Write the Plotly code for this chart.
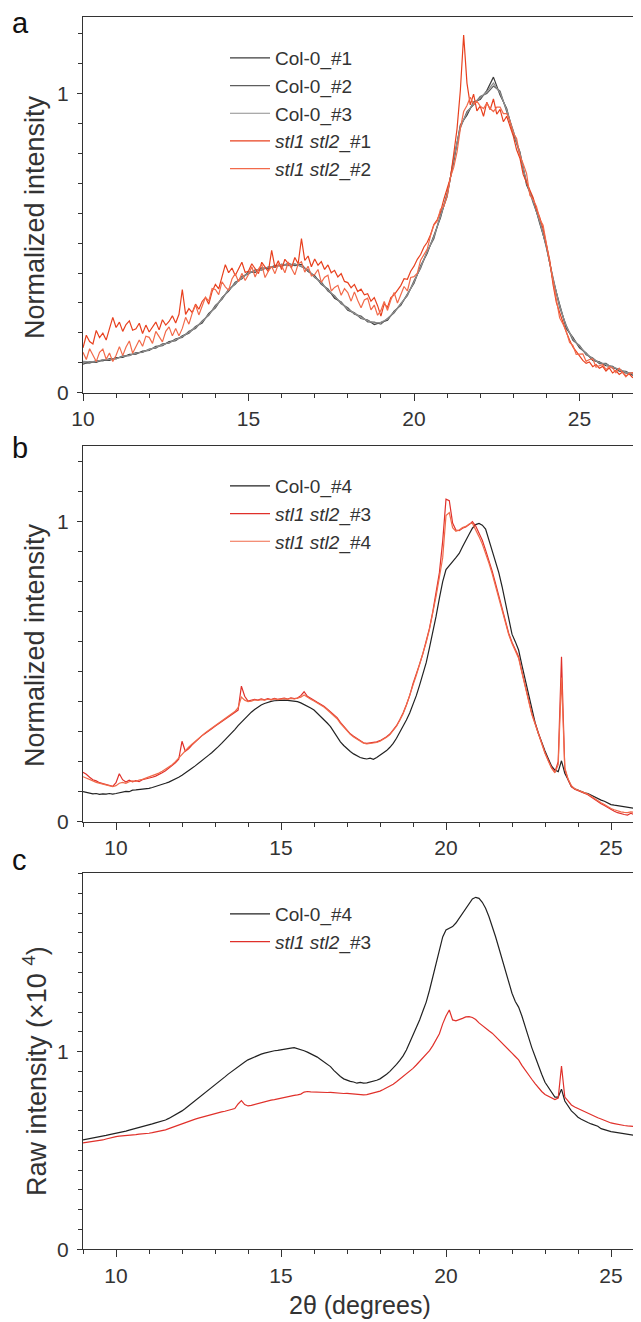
import numpy as np
import plotly.graph_objects as go

# ---- data ----
# panel a: 2theta grids
x_a_col = np.round(np.arange(10.0, 27.2 + 1e-9, 0.2), 1)
x_a_stl = np.round(np.arange(10.0, 27.1 + 1e-9, 0.1), 1)

col0_1 = [0.095, 0.104, 0.101, 0.110, 0.108, 0.117, 0.118, 0.128, 0.129, 0.139,
          0.141, 0.155, 0.157, 0.171, 0.174, 0.190, 0.199, 0.221, 0.233, 0.265,
          0.284, 0.318, 0.340, 0.369, 0.381, 0.404, 0.402, 0.417, 0.414, 0.426,
          0.423, 0.432, 0.425, 0.429, 0.405, 0.391, 0.362, 0.347, 0.316, 0.303,
          0.276, 0.267, 0.248, 0.243, 0.228, 0.234, 0.242, 0.273, 0.292, 0.330,
          0.366, 0.424, 0.466, 0.525, 0.585, 0.665, 0.772, 0.895, 0.928, 0.972,
          0.980, 1.010, 1.055, 0.995, 0.950, 0.865, 0.805, 0.695, 0.645, 0.565,
          0.492, 0.375, 0.295, 0.215, 0.185, 0.150, 0.133, 0.108, 0.103, 0.090,
          0.088, 0.072, 0.071, 0.059, 0.058, 0.050, 0.048]
col0_2 = [0.100, 0.099, 0.107, 0.106, 0.114, 0.113, 0.123, 0.124, 0.134, 0.135,
          0.146, 0.149, 0.163, 0.166, 0.180, 0.185, 0.205, 0.215, 0.240, 0.259,
          0.292, 0.312, 0.346, 0.362, 0.389, 0.397, 0.411, 0.410, 0.421, 0.419,
          0.430, 0.425, 0.431, 0.420, 0.411, 0.385, 0.370, 0.340, 0.324, 0.297,
          0.284, 0.262, 0.256, 0.237, 0.236, 0.229, 0.248, 0.267, 0.298, 0.324,
          0.374, 0.416, 0.474, 0.515, 0.595, 0.655, 0.784, 0.885, 0.940, 0.962,
          0.990, 1.000, 1.025, 1.008, 0.940, 0.875, 0.795, 0.705, 0.635, 0.575,
          0.484, 0.385, 0.285, 0.225, 0.175, 0.158, 0.127, 0.116, 0.097, 0.098,
          0.082, 0.080, 0.065, 0.066, 0.054, 0.056, 0.051]
col0_3 = [0.105, 0.103, 0.104, 0.111, 0.111, 0.114, 0.121, 0.125, 0.132, 0.136,
          0.144, 0.151, 0.160, 0.168, 0.176, 0.188, 0.201, 0.219, 0.237, 0.262,
          0.287, 0.316, 0.343, 0.366, 0.384, 0.401, 0.406, 0.414, 0.419, 0.421,
          0.428, 0.427, 0.429, 0.423, 0.409, 0.387, 0.367, 0.342, 0.321, 0.301,
          0.279, 0.266, 0.251, 0.241, 0.233, 0.235, 0.246, 0.270, 0.296, 0.328,
          0.369, 0.421, 0.469, 0.521, 0.590, 0.660, 0.780, 0.890, 0.935, 0.968,
          0.986, 1.006, 1.035, 1.002, 0.946, 0.871, 0.801, 0.701, 0.641, 0.571,
          0.489, 0.381, 0.291, 0.221, 0.181, 0.155, 0.131, 0.113, 0.101, 0.095,
          0.086, 0.077, 0.069, 0.063, 0.057, 0.053, 0.050]

stl_1 = [0.150, 0.192, 0.171, 0.163, 0.208, 0.184, 0.199, 0.176, 0.214, 0.252,
         0.218, 0.236, 0.205, 0.228, 0.240, 0.209, 0.214, 0.232, 0.198, 0.226,
         0.203, 0.221, 0.236, 0.210, 0.244, 0.226, 0.238, 0.257, 0.233, 0.262,
         0.345, 0.262, 0.281, 0.268, 0.296, 0.279, 0.305, 0.318, 0.296, 0.338,
         0.362, 0.347, 0.389, 0.428, 0.401, 0.417, 0.392, 0.413, 0.436, 0.402,
         0.407, 0.431, 0.414, 0.398, 0.436, 0.422, 0.405, 0.476, 0.418, 0.441,
         0.412, 0.446, 0.432, 0.418, 0.452, 0.431, 0.515, 0.442, 0.457, 0.421,
         0.447, 0.426, 0.438, 0.412, 0.427, 0.401, 0.409, 0.387, 0.398, 0.372,
         0.368, 0.351, 0.362, 0.338, 0.346, 0.327, 0.331, 0.306, 0.318, 0.291,
         0.256, 0.297, 0.286, 0.318, 0.327, 0.341, 0.358, 0.381, 0.379, 0.406,
         0.423, 0.446, 0.462, 0.487, 0.503, 0.528, 0.562, 0.578, 0.604, 0.646,
         0.682, 0.718, 0.798, 0.882, 1.010, 1.196, 1.035, 0.962, 0.998, 0.942,
         0.958, 0.924, 0.971, 0.946, 0.982, 0.931, 0.947, 0.906, 0.924, 0.893,
         0.858, 0.812, 0.784, 0.729, 0.703, 0.676, 0.652, 0.613, 0.586, 0.548,
         0.498, 0.443, 0.362, 0.302, 0.268, 0.232, 0.203, 0.176, 0.153, 0.138,
         0.121, 0.108, 0.098, 0.103, 0.087, 0.094, 0.082, 0.088, 0.072, 0.083,
         0.066, 0.074, 0.061, 0.069, 0.056, 0.063, 0.051, 0.058, 0.044, 0.022,
         0.012, 0.010]
stl_2 = [0.135, 0.111, 0.147, 0.123, 0.104, 0.135, 0.146, 0.112, 0.133, 0.104,
         0.125, 0.154, 0.124, 0.153, 0.173, 0.132, 0.156, 0.176, 0.155, 0.189,
         0.185, 0.165, 0.205, 0.185, 0.170, 0.205, 0.220, 0.190, 0.215, 0.190,
         0.215, 0.252, 0.229, 0.266, 0.293, 0.260, 0.292, 0.319, 0.306, 0.348,
         0.345, 0.328, 0.371, 0.354, 0.342, 0.380, 0.398, 0.371, 0.399, 0.375,
         0.395, 0.421, 0.387, 0.413, 0.429, 0.385, 0.406, 0.422, 0.398, 0.430,
         0.425, 0.401, 0.437, 0.413, 0.394, 0.430, 0.438, 0.403, 0.423, 0.390,
         0.395, 0.412, 0.369, 0.386, 0.393, 0.340, 0.352, 0.359, 0.326, 0.348,
         0.335, 0.306, 0.337, 0.308, 0.284, 0.310, 0.316, 0.277, 0.293, 0.259,
         0.275, 0.305, 0.275, 0.310, 0.335, 0.300, 0.330, 0.355, 0.340, 0.385,
         0.388, 0.400, 0.443, 0.460, 0.480, 0.525, 0.560, 0.573, 0.613, 0.623,
         0.657, 0.720, 0.753, 0.805, 0.883, 0.940, 0.960, 0.988, 0.965, 0.975,
         0.958, 0.950, 0.968, 0.950, 0.940, 0.955, 0.955, 0.933, 0.933, 0.908,
         0.868, 0.850, 0.793, 0.765, 0.733, 0.660, 0.645, 0.623, 0.580, 0.560,
         0.498, 0.425, 0.373, 0.300, 0.250, 0.230, 0.205, 0.168, 0.158, 0.128,
         0.128, 0.130, 0.105, 0.111, 0.113, 0.085, 0.090, 0.094, 0.077, 0.088,
         0.083, 0.067, 0.082, 0.066, 0.053, 0.065, 0.067, 0.047, 0.055, 0.038,
         0.042, 0.040]

# panels b and c share one 2theta grid
x_bc = np.round(np.arange(9.0, 26.2 + 1e-9, 0.1), 1)

col0_4_b = [0.100, 0.098, 0.094, 0.093, 0.094, 0.091, 0.093, 0.092, 0.094, 0.092,
            0.094, 0.097, 0.099, 0.101, 0.100, 0.105, 0.106, 0.107, 0.110, 0.109,
            0.111, 0.114, 0.117, 0.120, 0.124, 0.128, 0.132, 0.137, 0.142, 0.148,
            0.155, 0.162, 0.170, 0.178, 0.186, 0.194, 0.203, 0.212, 0.221, 0.230,
            0.239, 0.250, 0.261, 0.272, 0.283, 0.294, 0.307, 0.320, 0.332, 0.344,
            0.355, 0.365, 0.374, 0.382, 0.389, 0.394, 0.398, 0.401, 0.403, 0.404,
            0.405, 0.405, 0.404, 0.403, 0.402, 0.400, 0.396, 0.391, 0.385, 0.379,
            0.372, 0.362, 0.351, 0.340, 0.329, 0.317, 0.300, 0.282, 0.266, 0.254,
            0.243, 0.234, 0.226, 0.219, 0.214, 0.211, 0.209, 0.212, 0.208, 0.214,
            0.222, 0.228, 0.237, 0.248, 0.261, 0.278, 0.297, 0.318, 0.339, 0.362,
            0.390, 0.420, 0.455, 0.490, 0.530, 0.580, 0.630, 0.685, 0.745, 0.800,
            0.840, 0.855, 0.867, 0.880, 0.894, 0.916, 0.939, 0.958, 0.978, 0.990,
            0.994, 0.988, 0.975, 0.939, 0.905, 0.872, 0.830, 0.783, 0.733, 0.683,
            0.625, 0.600, 0.572, 0.522, 0.472, 0.420, 0.372, 0.330, 0.294, 0.262,
            0.236, 0.210, 0.185, 0.172, 0.167, 0.203, 0.161, 0.140, 0.117, 0.110,
            0.105, 0.100, 0.096, 0.094, 0.088, 0.082, 0.076, 0.072, 0.068, 0.062,
            0.057, 0.055, 0.053, 0.051, 0.049, 0.048, 0.046, 0.045, 0.043, 0.042,
            0.040, 0.040, 0.039]
stl_3_b = [0.165, 0.158, 0.148, 0.140, 0.136, 0.130, 0.127, 0.124, 0.120, 0.118,
           0.130, 0.160, 0.140, 0.132, 0.138, 0.133, 0.137, 0.134, 0.140, 0.142,
           0.144, 0.148, 0.152, 0.157, 0.163, 0.170, 0.178, 0.186, 0.196, 0.208,
           0.268, 0.235, 0.243, 0.255, 0.266, 0.276, 0.286, 0.294, 0.301, 0.310,
           0.318, 0.326, 0.334, 0.342, 0.350, 0.357, 0.364, 0.372, 0.452, 0.418,
           0.402, 0.404, 0.408, 0.405, 0.409, 0.406, 0.410, 0.407, 0.411, 0.408,
           0.410, 0.412, 0.409, 0.413, 0.410, 0.412, 0.420, 0.433, 0.418, 0.410,
           0.405, 0.398, 0.392, 0.385, 0.376, 0.367, 0.358, 0.347, 0.331, 0.318,
           0.305, 0.293, 0.285, 0.278, 0.270, 0.263, 0.261, 0.262, 0.264, 0.266,
           0.270, 0.276, 0.283, 0.292, 0.305, 0.320, 0.340, 0.362, 0.390, 0.420,
           0.460, 0.490, 0.525, 0.560, 0.600, 0.645, 0.700, 0.760, 0.830, 0.935,
           1.075, 1.070, 0.995, 0.972, 0.970, 0.978, 0.982, 0.990, 1.000, 0.985,
           0.960, 0.938, 0.905, 0.872, 0.835, 0.794, 0.750, 0.706, 0.668, 0.628,
           0.598, 0.572, 0.550, 0.500, 0.450, 0.405, 0.361, 0.328, 0.294, 0.260,
           0.230, 0.205, 0.180, 0.165, 0.200, 0.550, 0.175, 0.140, 0.117, 0.108,
           0.103, 0.098, 0.094, 0.090, 0.082, 0.074, 0.067, 0.060, 0.054, 0.047,
           0.040, 0.035, 0.030, 0.026, 0.024, 0.022, 0.028, 0.024, 0.027, 0.030,
           0.028, 0.026, 0.030]
stl_4_b = [0.150, 0.146, 0.140, 0.136, 0.131, 0.128, 0.124, 0.122, 0.119, 0.117,
           0.120, 0.128, 0.131, 0.128, 0.133, 0.136, 0.134, 0.139, 0.141, 0.145,
           0.148, 0.152, 0.157, 0.162, 0.168, 0.175, 0.182, 0.190, 0.200, 0.212,
           0.224, 0.238, 0.248, 0.258, 0.268, 0.278, 0.288, 0.296, 0.304, 0.312,
           0.320, 0.328, 0.336, 0.344, 0.352, 0.360, 0.367, 0.380, 0.415, 0.405,
           0.400, 0.402, 0.406, 0.404, 0.407, 0.405, 0.408, 0.406, 0.409, 0.407,
           0.408, 0.410, 0.408, 0.411, 0.409, 0.411, 0.415, 0.422, 0.414, 0.408,
           0.402, 0.396, 0.389, 0.382, 0.373, 0.364, 0.354, 0.343, 0.328, 0.315,
           0.302, 0.291, 0.282, 0.275, 0.268, 0.262, 0.259, 0.260, 0.262, 0.264,
           0.268, 0.274, 0.281, 0.290, 0.303, 0.318, 0.338, 0.360, 0.388, 0.418,
           0.455, 0.488, 0.522, 0.558, 0.598, 0.642, 0.695, 0.752, 0.815, 0.880,
           1.020, 1.030, 0.980, 0.968, 0.972, 0.980, 0.984, 0.992, 0.995, 0.975,
           0.950, 0.925, 0.895, 0.862, 0.826, 0.786, 0.744, 0.700, 0.662, 0.624,
           0.594, 0.570, 0.545, 0.497, 0.448, 0.402, 0.358, 0.325, 0.291, 0.257,
           0.228, 0.202, 0.178, 0.163, 0.190, 0.480, 0.180, 0.142, 0.120, 0.110,
           0.106, 0.101, 0.097, 0.092, 0.085, 0.077, 0.070, 0.063, 0.057, 0.050,
           0.044, 0.040, 0.036, 0.033, 0.031, 0.030, 0.033, 0.031, 0.034, 0.036,
           0.035, 0.034, 0.036]

# panel c: raw intensity, x 10^4
col0_4_c = [0.553, 0.556, 0.558, 0.561, 0.565, 0.570, 0.572, 0.576, 0.580, 0.583,
            0.587, 0.590, 0.594, 0.598, 0.603, 0.607, 0.611, 0.616, 0.620, 0.625,
            0.629, 0.634, 0.639, 0.643, 0.648, 0.654, 0.662, 0.671, 0.680, 0.690,
            0.700, 0.712, 0.725, 0.738, 0.751, 0.764, 0.778, 0.791, 0.805, 0.818,
            0.831, 0.845, 0.859, 0.872, 0.886, 0.899, 0.912, 0.924, 0.936, 0.947,
            0.958, 0.966, 0.974, 0.981, 0.987, 0.992, 0.997, 1.001, 1.004, 1.006,
            1.008, 1.011, 1.014, 1.017, 1.020, 1.016, 1.010, 1.004, 0.997, 0.990,
            0.983, 0.972, 0.960, 0.948, 0.936, 0.924, 0.905, 0.888, 0.874, 0.862,
            0.855, 0.849, 0.846, 0.840, 0.844, 0.840, 0.842, 0.846, 0.850, 0.855,
            0.862, 0.872, 0.885, 0.900, 0.916, 0.935, 0.955, 0.978, 1.008, 1.045,
            1.090, 1.125, 1.160, 1.205, 1.250, 1.310, 1.380, 1.450, 1.525, 1.580,
            1.615, 1.625, 1.632, 1.650, 1.675, 1.700, 1.725, 1.750, 1.772, 1.780,
            1.775, 1.755, 1.725, 1.683, 1.635, 1.582, 1.525, 1.464, 1.405, 1.346,
            1.295, 1.253, 1.225, 1.180, 1.125, 1.075, 1.020, 0.975, 0.925, 0.885,
            0.845, 0.818, 0.795, 0.770, 0.770, 0.810, 0.750, 0.725, 0.700, 0.685,
            0.668, 0.658, 0.648, 0.641, 0.634, 0.628, 0.622, 0.610, 0.604, 0.599,
            0.595, 0.593, 0.590, 0.587, 0.584, 0.582, 0.579, 0.576, 0.573, 0.571,
            0.569, 0.567, 0.566]
stl_3_c = [0.538, 0.540, 0.542, 0.544, 0.546, 0.549, 0.553, 0.558, 0.563, 0.567,
           0.570, 0.572, 0.573, 0.575, 0.576, 0.578, 0.580, 0.582, 0.583, 0.585,
           0.587, 0.590, 0.593, 0.596, 0.600, 0.604, 0.610, 0.616, 0.623, 0.630,
           0.637, 0.642, 0.648, 0.653, 0.658, 0.663, 0.668, 0.673, 0.678, 0.683,
           0.688, 0.691, 0.695, 0.698, 0.702, 0.705, 0.712, 0.735, 0.752, 0.732,
           0.725, 0.728, 0.733, 0.737, 0.742, 0.747, 0.750, 0.754, 0.757, 0.761,
           0.764, 0.767, 0.771, 0.774, 0.778, 0.781, 0.785, 0.795, 0.798, 0.796,
           0.795, 0.796, 0.794, 0.795, 0.793, 0.794, 0.792, 0.790, 0.791, 0.788,
           0.789, 0.787, 0.788, 0.786, 0.784, 0.781, 0.782, 0.786, 0.790, 0.795,
           0.800, 0.808, 0.816, 0.825, 0.835, 0.847, 0.860, 0.873, 0.886, 0.900,
           0.915, 0.932, 0.950, 0.967, 0.985, 1.005, 1.030, 1.060, 1.090, 1.140,
           1.180, 1.210, 1.160, 1.155, 1.160, 1.168, 1.175, 1.177, 1.172, 1.162,
           1.145, 1.130, 1.118, 1.105, 1.093, 1.077, 1.060, 1.042, 1.025, 1.008,
           0.992, 0.975, 0.958, 0.930, 0.905, 0.882, 0.860, 0.838, 0.815, 0.798,
           0.783, 0.775, 0.765, 0.757, 0.765, 0.927, 0.770, 0.750, 0.730, 0.720,
           0.712, 0.703, 0.694, 0.686, 0.679, 0.672, 0.665, 0.659, 0.652, 0.647,
           0.639, 0.636, 0.632, 0.629, 0.626, 0.624, 0.622, 0.621, 0.620, 0.620,
           0.620, 0.619, 0.619]

STL = "<i>stl1 stl2</i>"
FONT = "Liberation Sans, Arial, sans-serif"
INK = "#333333"

fig = go.Figure()

def add(x, y, name, color, xa, ya, leg, width=1.2):
    fig.add_trace(go.Scatter(x=x, y=y, name=name, mode="lines",
                             line=dict(color=color, width=width),
                             xaxis=xa, yaxis=ya, legend=leg))

# panel a
add(x_a_col, col0_1, "Col-0_#1", "#3c3c3c", "x", "y", "legend")
add(x_a_col, col0_2, "Col-0_#2", "#5e5e5e", "x", "y", "legend")
add(x_a_col, col0_3, "Col-0_#3", "#8e8e8e", "x", "y", "legend")
add(x_a_stl, stl_1, STL + "_#1", "#e8401e", "x", "y", "legend")
add(x_a_stl, stl_2, STL + "_#2", "#f26a4a", "x", "y", "legend")
# panel b
add(x_bc, col0_4_b, "Col-0_#4", "#222222", "x2", "y2", "legend2")
add(x_bc, stl_3_b, STL + "_#3", "#e0302a", "x2", "y2", "legend2")
add(x_bc, stl_4_b, STL + "_#4", "#f06a4a", "x2", "y2", "legend2")
# panel c
add(x_bc, col0_4_c, "Col-0_#4", "#222222", "x3", "y3", "legend3")
add(x_bc, stl_3_c, STL + "_#3", "#e0302a", "x3", "y3", "legend3")

# the page body adds an 8px offset, so figure coords = screen coords - 8
OFF = 8.0
H = 1322.0
L = 83.0 - OFF
W = 641.0 - L

def px_x(sx):
    return (sx - OFF - L) / W

def px_y(sy):
    return 1 - (sy - OFF) / H

def ydom(top_px, bottom_px):
    return [px_y(bottom_px), px_y(top_px)]

def xax(rng, anchor):
    return dict(range=rng, domain=[0, 1], anchor=anchor, showgrid=False, zeroline=False,
                showline=True, linecolor=INK, linewidth=1.2, mirror=True,
                ticks="outside", ticklen=7, tickwidth=1.1, tickcolor=INK,
                dtick=5, tick0=0, tickfont=dict(size=21, color=INK, family=FONT),
                minor=dict(dtick=1, ticks="outside", ticklen=4, tickcolor=INK, tickwidth=1),
                automargin=False, fixedrange=True)

def yax(rng, dom, anchor):
    return dict(range=rng, domain=dom, anchor=anchor, showgrid=False, zeroline=False,
                showline=True, linecolor=INK, linewidth=1.2,
                ticks="outside", ticklen=5, tickwidth=1.1, tickcolor=INK,
                dtick=1, tick0=0, tickfont=dict(size=21, color=INK, family=FONT),
                minor=dict(dtick=0.1, ticks="outside", ticklen=4, tickcolor=INK, tickwidth=1),
                ticklabelstandoff=4, automargin=False, fixedrange=True)

def legend_at(top_px):
    return dict(x=(217 - L) / W, xanchor="left", y=1 - top_px / H, yanchor="top",
                bgcolor="rgba(0,0,0,0)", borderwidth=0, tracegroupgap=0,
                font=dict(size=19, color=INK, family=FONT), itemwidth=40)

fig.update_layout(
    width=641, height=1322,
    margin=dict(l=L, r=0, t=0, b=0, autoexpand=False),
    paper_bgcolor="white", plot_bgcolor="white",
    font=dict(family=FONT, color=INK),
    xaxis=xax([10, 10 + W / 33.1], "y"),
    yaxis=yax([0, 1.256], ydom(17, 392.7), "x"),
    xaxis2=xax([9, 9 + W / 33.0], "y2"),
    yaxis2=yax([0, 1.252], ydom(446, 821.7), "x2"),
    xaxis3=xax([9, 9 + W / 33.0], "y3"),
    yaxis3=yax([0, 1.903], ydom(873, 1249.3), "x3"),
    legend=legend_at(31),
    legend2=legend_at(459),
    legend3=legend_at(887),
    showlegend=True,
)

# axis titles (screen positions)
for text, cy in (("Normalized intensity", 217), ("Normalized intensity", 645),
                 ("Raw intensity (×10 <sup>4</sup>)", 1071)):
    fig.add_annotation(text=text, xref="paper", yref="paper", x=px_x(35), y=px_y(cy),
                       xanchor="center", yanchor="middle", textangle=-90, showarrow=False,
                       font=dict(size=27, color=INK, family=FONT))
fig.add_annotation(text="2θ (degrees)", xref="paper", yref="paper", x=px_x(360), y=px_y(1305),
                   xanchor="center", yanchor="middle", showarrow=False,
                   font=dict(size=25, color=INK, family=FONT))

# panel letters (screen baseline positions)
for letter, base_px in (("a", 35), ("b", 460), ("c", 872)):
    fig.add_annotation(text=letter, xref="paper", yref="paper", x=px_x(10),
                       y=px_y(base_px + 6), xanchor="left", yanchor="bottom",
                       showarrow=False, font=dict(size=29, color="#111111", family=FONT))

fig.write_html("out.html")
